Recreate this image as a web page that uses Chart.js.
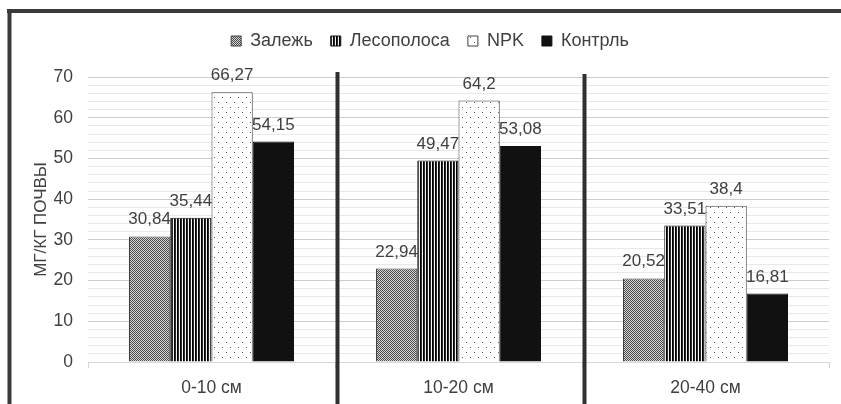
<!DOCTYPE html>
<html>
<head>
<meta charset="utf-8">
<script src="https://cdn.jsdelivr.net/npm/chart.js@4/dist/chart.umd.min.js"></script>
<style>
  html, body { margin: 0; padding: 0; background: #ffffff; }
  #wrap { width: 841px; height: 404px; position: relative; }
</style>
</head>
<body>
<div id="wrap"><canvas id="chart" width="841" height="404"></canvas></div>
<script>
// Soil depth layers (categories) and the measured values, mg per kg of soil
const categories = ['0-10 см', '10-20 см', '20-40 см'];
const seriesNames = ['Залежь', 'Лесополоса', 'NPK', 'Контрль'];
const zalezh     = [30.84, 22.94, 20.52];
const lesopolosa = [35.44, 49.47, 33.51];
const npk        = [66.27, 64.2, 38.4];
const kontrol    = [54.15, 53.08, 16.81];
const yMin = 0, yMax = 70, yMinorStep = 2, yMajorStep = 10;
const yTitle = 'МГ/КГ ПОЧВЫ';

const FONT = '"Liberation Sans", Arial, sans-serif';
const TEXT = '#404040';
const PAD_LEFT = 31, PAD_TOP = 14, PAD_RIGHT = 12;

// Small repeating fills for the hatched bars
function makePattern(w, h, draw) {
  const c = document.createElement('canvas');
  c.width = w; c.height = h;
  const g = c.getContext('2d');
  draw(g);
  return g.createPattern(c, 'repeat');
}
const checkerFill = makePattern(4, 4, g => {
  g.fillStyle = '#d6d6d6'; g.fillRect(0, 0, 4, 4);
  g.fillStyle = '#4a4a4a';
  for (let y = 0; y < 4; y++) for (let x = 0; x < 4; x++) if ((x + y) % 2 === 0) g.fillRect(x, y, 1, 1);
});
const stripeFill = makePattern(3, 1, g => {
  g.fillStyle = '#000000'; g.fillRect(0, 0, 1, 1);
  g.fillStyle = '#2a2a2a'; g.fillRect(1, 0, 1, 1);
  g.fillStyle = '#f4f4f4'; g.fillRect(2, 0, 1, 1);
});
const dotFill = makePattern(8, 10, g => {
  g.fillStyle = '#ffffff'; g.fillRect(0, 0, 8, 10);
  g.fillStyle = '#555555';
  g.fillRect(2, 2, 1, 1);
  g.fillRect(6, 7, 1, 1);
});

const fills = [checkerFill, stripeFill, dotFill, '#111111'];
const edges = ['#404040', '#111111', '#404040', '#111111'];
const values = [zalezh, lesopolosa, npk, kontrol];

const fmt = v => String(v).replace('.', ',');

// Outer frame lines and the thick dividers between depth groups
const decorPlugin = {
  id: 'decor',
  beforeLayout(chart) {
    const lg = chart.legend;
    if (lg && !lg._fixedHeight) {
      const fit = lg.fit;
      lg.fit = function () { fit.call(this); this.height = 77 - PAD_TOP; };
      lg._fixedHeight = true;
    }
  },
  afterDraw(chart) {
    const { ctx, chartArea } = chart;
    const xs = chart.scales.x;
    ctx.save();
    ctx.fillStyle = '#3a3a3a';
    ctx.fillRect(7, 9, chart.width - 7, 4);
    ctx.fillRect(7.5, 9, 4, chart.height - 9);
    const tops = [chartArea.top - 5, chartArea.top - 3];
    for (let i = 0; i < categories.length - 1; i++) {
      const b = (xs.getPixelForValue(i) + xs.getPixelForValue(i + 1)) / 2;
      ctx.fillStyle = '#303030';
      ctx.fillRect(b + 0.5, tops[i], 4, chart.height - tops[i]);
    }
    ctx.restore();
  }
};

// Value labels above every bar
const valueLabels = {
  id: 'valueLabels',
  afterDatasetsDraw(chart) {
    const { ctx } = chart;
    ctx.save();
    ctx.font = '17px ' + FONT;
    ctx.fillStyle = TEXT;
    ctx.textAlign = 'center';
    ctx.textBaseline = 'alphabetic';
    chart.data.datasets.forEach((ds, i) => {
      chart.getDatasetMeta(i).data.forEach((bar, j) => {
        ctx.fillText(fmt(ds.data[j]), bar.x, bar.y - 12);
      });
    });
    ctx.restore();
  }
};

new Chart(document.getElementById('chart'), {
  type: 'bar',
  data: {
    labels: categories,
    datasets: seriesNames.map((name, i) => ({
      label: name,
      data: values[i],
      backgroundColor: fills[i],
      borderColor: edges[i],
      borderWidth: 1,
      barPercentage: 1,
      categoryPercentage: 0.668
    }))
  },
  options: {
    responsive: false,
    devicePixelRatio: 1,
    animation: false,
    layout: { padding: { left: PAD_LEFT, top: PAD_TOP, right: PAD_RIGHT, bottom: 0 } },
    plugins: {
      legend: {
        position: 'top',
        labels: {
          boxWidth: 10,
          boxHeight: 10,
          padding: 18,
          color: TEXT,
          font: { family: FONT, size: 18 }
        }
      },
      tooltip: { enabled: false }
    },
    scales: {
      x: {
        afterFit(scale) { scale.height = 42; },
        grid: {
          display: true,
          drawOnChartArea: false,
          drawTicks: true,
          tickLength: 6,
          color: '#d6d6d6'
        },
        border: { display: true, color: '#d6d6d6' },
        ticks: {
          color: TEXT,
          padding: 10,
          font: { family: FONT, size: 17.5 }
        }
      },
      y: {
        min: yMin,
        max: yMax,
        afterFit(scale) { scale.width = 88 - PAD_LEFT; },
        grid: {
          drawTicks: false,
          color: c => (c.tick && c.tick.value % yMajorStep === 0) ? '#cdcdcd' : '#e8e8e8'
        },
        border: { display: false },
        ticks: {
          stepSize: yMinorStep,
          autoSkip: false,
          padding: 15,
          color: TEXT,
          font: { family: FONT, size: 17.5 },
          callback: v => (v % yMajorStep === 0 ? v : '')
        },
        title: {
          display: true,
          text: yTitle,
          color: TEXT,
          padding: { top: 0, bottom: 0 },
          font: { family: FONT, size: 17 }
        }
      }
    }
  },
  plugins: [decorPlugin, valueLabels]
});
</script>
</body>
</html>
